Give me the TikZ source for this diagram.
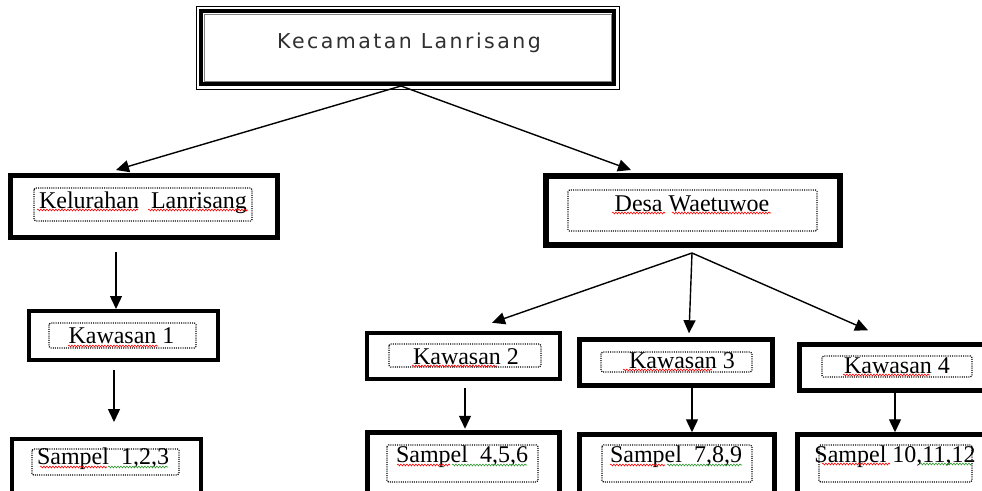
\documentclass[tikz,border=0pt]{standalone}
\usepackage{fontspec}
\setmainfont{Liberation Serif}
\newfontfamily\kecfont[LetterSpace=12]{DejaVu Sans}
\usetikzlibrary{arrows.meta,decorations.pathmorphing}
\definecolor{kecgray}{HTML}{303030}
\definecolor{sqgreen}{HTML}{2E9A2E}
\begin{document}
\begin{tikzpicture}[x=1pt,y=-1pt,
  nbox/.style={draw, line width=#1, rectangle, inner sep=0pt, fill=white},
  lbl/.style={anchor=base, inner sep=0pt, font=\fontsize{24}{28}\selectfont},
  dotbox/.style={line width=1.2pt, dash pattern=on 1pt off 1.2pt, rounded corners=1.5pt},
  arr/.style={-{Triangle[length=13pt,width=12pt]}, line width=1.4pt},
  sq/.style={decorate, decoration={snake, amplitude=0.9pt, segment length=3pt}, line width=0.6pt},
]
\useasboundingbox (0,0) rectangle (982,490);
\clip (0,0) rectangle (982,490);

% top box
\node[nbox=4pt, minimum width=413pt, minimum height=73pt] (top) at (407.5,47.5) {};
\draw[line width=1pt] ([shift={(-3,-3)}]top.north west) rectangle ([shift={(3,3)}]top.south east);
\draw[gray, line width=0.6pt] ([shift={(5,5)}]top.north west) rectangle ([shift={(-5,-5)}]top.south east);
\node[anchor=base, inner sep=0pt, font=\kecfont\fontsize{20.5}{24}\selectfont, text=kecgray] (topt) at (409,48) {Kecamatan Lanrisang};

% boxes
\node[nbox=5pt, minimum width=267pt, minimum height=62pt] (kel) at (144,206.5) {};
\node[nbox=4pt, minimum width=189pt, minimum height=49pt] (k1) at (123.5,335.5) {};
\node[nbox=4pt, minimum width=189pt, minimum height=100pt] (s1) at (106.5,489) {};
\node[nbox=6pt, minimum width=294pt, minimum height=69pt] (desa) at (693,210.5) {};
\node[nbox=4.5pt, minimum width=193pt, minimum height=46pt] (k2) at (463.5,356) {};
\node[nbox=4.5pt, minimum width=193pt, minimum height=46pt] (k3) at (676,362.5) {};
\node[nbox=4.5pt, minimum width=210pt, minimum height=46pt] (k4) at (904.5,367.5) {};
\node[nbox=4.5pt, minimum width=192pt, minimum height=100pt] (s2) at (463.5,482.5) {};
\node[nbox=4.5pt, minimum width=195pt, minimum height=100pt] (s3) at (677,484.5) {};
\node[nbox=4.5pt, minimum width=212.5pt, minimum height=100pt] (s4) at (903.75,484.5) {};

% dotted text frames
\draw[dotbox] (34,188) rectangle (252,221);
\draw[dotbox] (49,323) rectangle (196,348);
\draw[dotbox] (32,449) rectangle (179,475);
\draw[dotbox] (568,190) rectangle (817,231);
\draw[dotbox] (389,344) rectangle (541,367);
\draw[dotbox] (601,352) rectangle (752,372);
\draw[dotbox] (822,356) rectangle (972,377);
\draw[dotbox] (387,445) rectangle (538,482);
\draw[dotbox] (602,445) rectangle (752,482);
\draw[dotbox] (819,445) rectangle (972,482);

% labels
\node[lbl] (kelt) at (143,208) {Kelurahan\ \ Lanrisang};
\node[lbl] (k1t) at (121.5,343) {Kawasan 1};
\node[lbl] (s1t) at (103,464) {Sampel\ \ 1,2,3};
\node[lbl] (desat) at (692,211) {Desa Waetuwoe};
\node[lbl] (k2t) at (466,364) {Kawasan 2};
\node[lbl] (k3t) at (682,368) {Kawasan 3};
\node[lbl] (k4t) at (897,373) {Kawasan 4};
\node[lbl] (s2t) at (462,462) {Sampel\ \ 4,5,6};
\node[lbl] (s3t) at (676,462) {Sampel\ \ 7,8,9};
\node[lbl] (s4t) at (895,462) {Sampel 10,11,12};

% spelling squiggles
\draw[sq, red] (37,210) -- (138,210);
\draw[sq, red] (148,210) -- (248,210);
\draw[sq, red] (68,346) -- (158,346);
\draw[sq, red] (40,467) -- (107,467);
\draw[sq, sqgreen] (108,467) -- (168,467);
\draw[sq, red] (612,213) -- (665,213);
\draw[sq, red] (672,213) -- (771,213);
\draw[sq, red] (412,366) -- (497,366);
\draw[sq, red] (623,370) -- (712,370);
\draw[sq, red] (843,375) -- (930,375);
\draw[sq, red] (397,465) -- (450,465);
\draw[sq, sqgreen] (452,465) -- (527,465);
\draw[sq, red] (610,465) -- (665,465);
\draw[sq, sqgreen] (667,465) -- (742,465);
\draw[sq, red] (822,464) -- (890,464);
\draw[sq, sqgreen] (920,464) -- (972,464);

% connectors
\draw[arr] ([xshift=-6.5pt]top.south) -- ([xshift=-28pt,yshift=3pt]kel.north);
\draw[arr] ([xshift=-6.5pt]top.south) -- ([xshift=-62pt,yshift=3pt]desa.north);
\draw[arr] ([xshift=-28pt,yshift=-12pt]kel.south) -- ([xshift=-7.5pt]k1.north);
\draw[arr] ([xshift=-9.5pt,yshift=-8pt]k1.south) -- ([xshift=7.5pt,yshift=15pt]s1.north);
\draw[arr] ([xshift=-1pt,yshift=-5pt]desa.south) -- ([xshift=28.5pt,yshift=8pt]k2.north);
\draw[arr] ([xshift=-1pt,yshift=-5pt]desa.south) -- ([xshift=13pt,yshift=4pt]k3.north);
\draw[arr] ([xshift=-1pt,yshift=-5pt]desa.south) -- ([xshift=-36.5pt,yshift=12pt]k4.north);
\draw[arr] ([xshift=1.5pt,yshift=-7pt]k2.south) -- ([xshift=1.5pt,yshift=1.5pt]s2.north);
\draw[arr] ([xshift=16pt]k3.south) -- ([xshift=15pt]s3.north);
\draw[arr] ([xshift=-9.5pt]k4.south) -- ([xshift=-8.75pt]s4.north);
\end{tikzpicture}
\end{document}
